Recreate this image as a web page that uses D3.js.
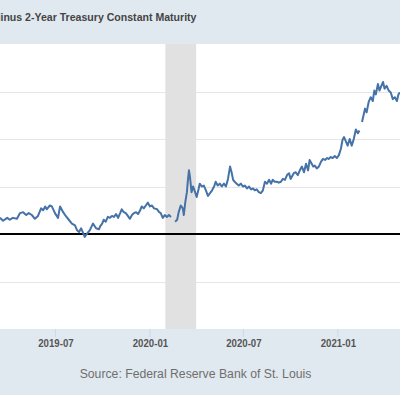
<!DOCTYPE html>
<html>
<head>
<meta charset="utf-8">
<script src="https://cdn.jsdelivr.net/npm/d3@7"></script>
<style>
  body { margin: 0; background: #e1e9f0; }
  svg { display: block; font-family: "Liberation Sans", Arial, sans-serif; }
</style>
</head>
<body>
<div id="chart"></div>
<script>
const title = "10-Year Treasury Constant Maturity Minus 2-Year Treasury Constant Maturity";
const source = "Source: Federal Reserve Bank of St. Louis";

const dates = [
  "2019-03-16","2019-03-22","2019-03-30","2019-04-04","2019-04-10","2019-04-18","2019-04-24","2019-04-30",
  "2019-05-06","2019-05-11","2019-05-17","2019-05-23","2019-05-29","2019-06-04","2019-06-08","2019-06-12",
  "2019-06-15","2019-06-21","2019-06-25","2019-07-01","2019-07-07","2019-07-11","2019-07-17","2019-07-22",
  "2019-07-28","2019-08-03","2019-08-09","2019-08-13","2019-08-17","2019-08-21","2019-08-25","2019-08-28",
  "2019-09-01","2019-09-07","2019-09-13","2019-09-19","2019-09-25","2019-09-27","2019-10-01","2019-10-04",
  "2019-10-08","2019-10-12","2019-10-16","2019-10-20","2019-10-24","2019-10-28","2019-11-01","2019-11-05",
  "2019-11-08","2019-11-12","2019-11-16","2019-11-20","2019-11-24","2019-11-28","2019-12-02","2019-12-06",
  "2019-12-10","2019-12-14","2019-12-17","2019-12-21","2019-12-25","2019-12-29","2020-01-02","2020-01-06",
  "2020-01-10","2020-01-16","2020-01-20","2020-01-23","2020-01-27","2020-01-31","2020-02-04","2020-02-08",
  "2020-02-12","2020-02-16","2020-02-20","2020-02-24","2020-02-27","2020-03-02","2020-03-06","2020-03-08",
  "2020-03-11","2020-03-14","2020-03-16","2020-03-18","2020-03-20","2020-03-23","2020-03-26","2020-03-30",
  "2020-04-02","2020-04-06","2020-04-08","2020-04-12","2020-04-16","2020-04-20","2020-04-24","2020-04-28",
  "2020-05-02","2020-05-06","2020-05-09","2020-05-13","2020-05-17","2020-05-21","2020-05-25","2020-05-29",
  "2020-06-02","2020-06-06","2020-06-09","2020-06-12","2020-06-15","2020-06-19","2020-06-23","2020-06-27",
  "2020-07-01","2020-07-05","2020-07-09","2020-07-13","2020-07-17","2020-07-21","2020-07-24","2020-07-28",
  "2020-08-01","2020-08-05","2020-08-09","2020-08-13","2020-08-17","2020-08-21","2020-08-25","2020-08-28",
  "2020-09-01","2020-09-05","2020-09-09","2020-09-13","2020-09-17","2020-09-21","2020-09-25","2020-09-29",
  "2020-10-02","2020-10-08","2020-10-12","2020-10-16","2020-10-20","2020-10-24","2020-10-28","2020-11-01",
  "2020-11-05","2020-11-08","2020-11-12","2020-11-15","2020-11-18","2020-11-22","2020-11-26","2020-11-30",
  "2020-12-04","2020-12-08","2020-12-12","2020-12-15","2020-12-19","2020-12-23","2020-12-27","2020-12-31",
  "2021-01-04","2021-01-08","2021-01-11","2021-01-14","2021-01-18","2021-01-21","2021-01-25","2021-01-29",
  "2021-02-02","2021-02-06","2021-02-10","2021-02-13","2021-02-15","2021-02-18","2021-02-21","2021-02-24",
  "2021-02-27","2021-03-03","2021-03-07","2021-03-11","2021-03-14","2021-03-17","2021-03-21","2021-03-24",
  "2021-03-27","2021-03-31","2021-04-03","2021-04-07","2021-04-11","2021-04-15","2021-04-19","2021-04-23",
  "2021-04-27","2021-04-30","2021-05-03"
];

// percent; null = no observation (gap in the line)
const spread = [
  0.17,0.14,0.17,0.15,0.17,0.16,0.22,0.23,
  0.20,0.22,0.20,0.16,0.19,0.27,0.25,0.29,
  0.26,0.30,0.29,0.22,0.17,0.29,0.23,0.19,
  0.15,0.11,0.09,0.04,0.02,0.06,0.01,-0.03,
  0.00,0.04,0.11,0.06,0.05,0.08,0.11,0.15,
  0.13,0.18,0.17,0.19,0.18,0.21,0.17,0.22,
  0.26,0.23,0.22,0.19,0.16,0.20,0.22,0.23,
  0.21,0.25,0.29,0.27,0.30,0.33,0.29,0.30,
  0.27,0.26,0.23,0.22,0.17,0.20,0.18,0.20,
  0.18,null,0.13,0.15,0.23,0.30,0.27,0.20,
  0.34,0.44,0.57,0.67,0.60,0.44,0.50,0.44,
  0.39,0.48,0.53,0.50,0.51,0.46,0.40,0.43,
  0.46,0.50,0.55,0.51,0.53,0.50,0.53,0.50,
  0.58,0.71,0.65,0.57,0.55,0.53,0.51,0.53,
  0.50,0.51,0.48,0.50,0.47,0.48,0.46,0.47,
  0.44,0.43,0.46,0.55,0.53,0.57,0.53,0.57,
  0.55,0.55,0.54,0.55,0.58,0.57,0.62,0.64,
  0.58,0.64,0.65,0.62,0.67,0.71,0.65,0.74,
  0.67,0.78,0.74,0.71,0.72,0.69,0.71,0.76,
  0.79,0.78,0.80,0.79,0.81,0.80,0.82,0.80,
  0.83,0.90,0.99,1.02,0.97,0.93,1.00,0.93,
  1.00,1.10,1.06,1.09,null,1.18,1.25,1.32,
  1.28,1.39,1.44,1.40,1.51,1.47,1.58,1.51,
  1.55,1.60,1.53,1.56,1.51,1.49,1.42,1.44,
  1.40,1.47,1.49
];

const recession = ["2020-02-01", "2020-04-01"];
const xTicks = ["2019-07-01", "2020-01-01", "2020-07-01", "2021-01-01"];
const yGrid = [-0.5, 0.5, 1.0, 1.5];
const xDomain = ["2019-03-16", "2021-05-03"];
const yDomain = [-1, 2];

const width = 400, height = 395;
const plot = { top: 44, bottom: 329, left: 0, right: 400 };
const squeeze = 0.92; // the screenshot text is slightly narrowed

const parse = d3.utcParse("%Y-%m-%d");
const data = dates.map((d, i) => ({ date: parse(d), value: spread[i] }));

const x = d3.scaleUtc().domain(xDomain.map(parse)).range([plot.left, plot.right]);
const y = d3.scaleLinear().domain(yDomain).range([plot.bottom, plot.top]);

const svg = d3.select("#chart").append("svg")
  .attr("width", width)
  .attr("height", height);

svg.append("rect")
  .attr("width", width).attr("height", height)
  .attr("fill", "#e1e9f0");

svg.append("rect")
  .attr("x", plot.left).attr("y", plot.top)
  .attr("width", plot.right - plot.left).attr("height", plot.bottom - plot.top)
  .attr("fill", "#ffffff");

// grid
svg.append("g")
  .selectAll("line")
  .data(yGrid)
  .join("line")
  .attr("x1", plot.left).attr("x2", plot.right)
  .attr("y1", d => Math.round(y(d)) + 0.5).attr("y2", d => Math.round(y(d)) + 0.5)
  .attr("stroke", "#e6e6e6");

// recession band
svg.append("rect")
  .attr("x", x(parse(recession[0])))
  .attr("y", plot.top)
  .attr("width", x(parse(recession[1])) - x(parse(recession[0])))
  .attr("height", plot.bottom - plot.top)
  .attr("fill", "#e1e1e1");

// zero line
svg.append("line")
  .attr("x1", plot.left).attr("x2", plot.right)
  .attr("y1", y(0)).attr("y2", y(0))
  .attr("stroke", "#000")
  .attr("stroke-width", 2);

const line = d3.line()
  .defined(d => d.value !== null)
  .x(d => x(d.date))
  .y(d => y(d.value));

svg.append("path")
  .datum(data)
  .attr("fill", "none")
  .attr("stroke", "#4572a7")
  .attr("stroke-width", 2)
  .attr("stroke-linejoin", "round")
  .attr("d", line);

// x axis
const xAxis = svg.append("g")
  .attr("transform", `translate(0,${plot.bottom})`)
  .call(d3.axisBottom(x)
    .tickValues(xTicks.map(parse))
    .tickFormat(d3.utcFormat("%Y-%m"))
    .tickSize(8)
    .tickPadding(0));

xAxis.select(".domain").remove();
xAxis.selectAll(".tick line")
  .attr("stroke", "#ccd6eb");
xAxis.selectAll(".tick text")
  .attr("y", 0).attr("dy", null)
  .attr("transform", `translate(0.5,18) scale(${squeeze},1)`)
  .attr("font-family", "Liberation Sans, Arial, sans-serif")
  .attr("font-size", 10.5)
  .attr("font-weight", "bold")
  .attr("fill", "#555");

svg.append("text")
  .attr("transform", `translate(196.5,20.5) scale(${squeeze},1)`)
  .attr("text-anchor", "end")
  .attr("font-size", 11.5)
  .attr("font-weight", "bold")
  .attr("fill", "#444")
  .text(title);

svg.append("text")
  .attr("transform", `translate(195.5,377.5) scale(${squeeze},1)`)
  .attr("text-anchor", "middle")
  .attr("font-size", 13.3)
  .attr("fill", "#6e6e6e")
  .text(source);
</script>
</body>
</html>
